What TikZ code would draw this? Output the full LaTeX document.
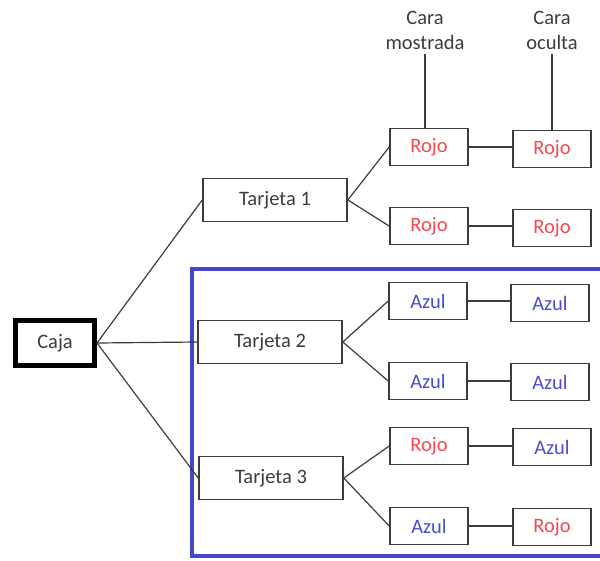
\documentclass[tikz,border=0pt]{standalone}
\usepackage{fontspec}
\setmainfont{Carlito}
\usepackage{xcolor}
\usetikzlibrary{positioning}
\definecolor{rojo}{RGB}{250,70,80}
\definecolor{azul}{RGB}{75,75,215}
\definecolor{marco}{RGB}{68,68,204}
\definecolor{linea}{RGB}{60,60,60}

\begin{document}
\begin{tikzpicture}[
    x=1pt, y=-1pt,
    font=\fontsize{20.5}{25}\selectfont,
    caja/.style={draw=black, line width=5pt, minimum width=79pt, minimum height=45pt, inner sep=0, text=linea},
    tarjeta/.style={draw=linea, line width=1.6pt, minimum width=144pt, minimum height=43pt, inner sep=0, text=linea},
    cara/.style={draw=linea, line width=1.6pt, minimum width=78pt, minimum height=37pt, inner sep=0},
    r/.style={cara, text=rojo},
    a/.style={cara, text=azul},
    rama/.style={draw=linea, line width=1.2pt},
    titulo/.style={align=center, text=linea, inner sep=0}]
\useasboundingbox (0,0) rectangle (600,560);

% selected cards
\draw[marco, line width=4pt] (604,269) -- (192,269) -- (192,556) -- (604,556);

\node[caja] (caja) at (55,343) {Caja};
\node[tarjeta] (t1) at (275,200) {Tarjeta 1};
\node[tarjeta] (t2) at (270,342) {Tarjeta 2};
\node[tarjeta] (t3) at (271,478) {Tarjeta 3};

% cara mostrada
\node[r] (m1) at (429,147) {Rojo};
\node[r] (m2) at (429,226) {Rojo};
\node[a] (m3) at (428,301) {Azul};
\node[a] (m4) at (428,381) {Azul};
\node[r] (m5) at (429,446) {Rojo};
\node[a] (m6) at (429,526) {Azul};

% cara oculta
\node[r] (o1) at (552,149) {Rojo};
\node[r] (o2) at (552,228) {Rojo};
\node[a] (o3) at (550,303) {Azul};
\node[a] (o4) at (550,382) {Azul};
\node[a] (o5) at (552,447) {Azul};
\node[r] (o6) at (552,527) {Rojo};

\node[titulo] (lm) at (425,30) {Cara\\mostrada};
\node[titulo] (lo) at (552,30) {Cara\\oculta};

\foreach \t in {t1,t2,t3}
    \draw[rama] (caja.east) -- (\t.west);
\draw[rama] (t1.east) -- (m1.west);
\draw[rama] (t1.east) -- (m2.west);
\draw[rama] (t2.east) -- (m3.west);
\draw[rama] (t2.east) -- (m4.west);
\draw[rama] (t3.east) -- (m5.west);
\draw[rama] (t3.east) -- (m6.west);
\foreach \i in {1,...,6}
    \draw[rama] (m\i.east) -- (m\i.east -| o\i.west);
\draw[rama] ([yshift=-5pt]lm.south) -- (lm.south |- m1.north);
\draw[rama] ([yshift=-5pt]lo.south) -- (lo.south |- o1.north);

\end{tikzpicture}
\end{document}
